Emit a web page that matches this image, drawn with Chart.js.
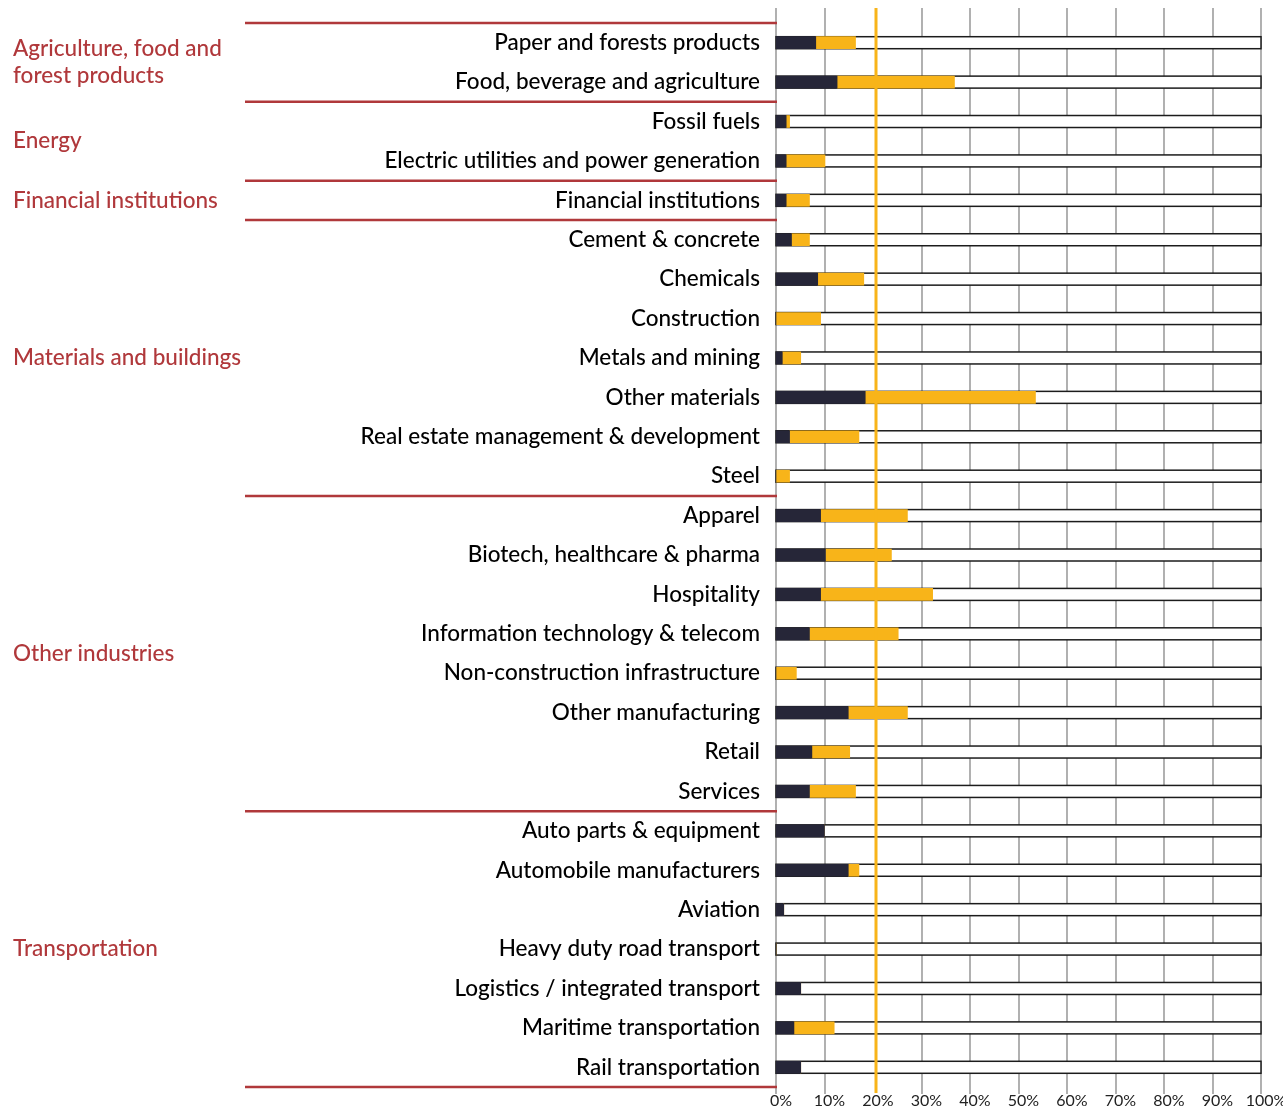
<!DOCTYPE html>
<html>
<head>
<meta charset="utf-8">
<script src="https://cdn.jsdelivr.net/npm/chart.js@4/dist/chart.umd.min.js"></script>
<style>
  html, body { margin: 0; background: #fff; }
  #wrap { position: relative; width: 1283px; height: 1109px; }
</style>
</head>
<body>
<div id="wrap"><canvas id="chart"></canvas></div>
<script>
// Sector rows, top to bottom, and the two stacked shares (percent).
const sectors = [
  "Paper and forests products", "Food, beverage and agriculture",
  "Fossil fuels", "Electric utilities and power generation",
  "Financial institutions",
  "Cement & concrete", "Chemicals", "Construction", "Metals and mining",
  "Other materials", "Real estate management & development", "Steel",
  "Apparel", "Biotech, healthcare & pharma", "Hospitality",
  "Information technology & telecom", "Non-construction infrastructure",
  "Other manufacturing", "Retail", "Services",
  "Auto parts & equipment", "Automobile manufacturers", "Aviation",
  "Heavy duty road transport", "Logistics / integrated transport",
  "Maritime transportation", "Rail transportation",
];
const darkSeries = [
  8.2, 12.6,
  2.1, 2.1,
  2.1,
  3.2, 8.6, 0, 1.3, 18.4, 2.8, 0,
  9.2, 10.2, 9.2, 6.9, 0, 14.9, 7.4, 6.9,
  10.0, 14.9, 1.6, 0, 5.1, 3.7, 5.1,
];
const goldSeries = [
  8.2, 24.2,
  0.7, 8.0,
  4.8,
  3.7, 9.5, 9.2, 3.8, 35.1, 14.3, 2.8,
  17.9, 13.6, 23.1, 18.3, 4.2, 12.2, 7.8, 9.5,
  0, 2.2, 0, 0, 0, 8.3, 0,
];

// Sector groups (row counts follow the order of `sectors`).
const groupLabels = [
  ["Agriculture, food and", "forest products"],
  ["Energy"],
  ["Financial institutions"],
  ["Materials and buildings"],
  ["Other industries"],
  ["Transportation"],
];
const groupSizes = [2, 2, 1, 7, 8, 7];

const xTickLabels = ["0%", "10%", "20%", "30%", "40%", "50%", "60%", "70%", "80%", "90%", "100%"];
const thresholdPct = 20;

const NAVY = "#262638";
const GOLD = "#f8b419";
const RED = "#b0383b";
const FONT = "Lato";

// Grid, white 0–100% track boxes, threshold line, group labels and rules.
const decor = {
  id: "decor",
  beforeDatasetsDraw(chart) {
    const { ctx, chartArea: a, scales: { x } } = chart;
    ctx.save();
    ctx.strokeStyle = "#9d9d9d";
    ctx.lineWidth = 1.6;
    for (const t of x.ticks) {
      if (t.value === thresholdPct) continue; // covered by the gold line
      const px = Math.round(x.getPixelForValue(t.value));
      ctx.beginPath();
      ctx.moveTo(px, a.top - 15);
      ctx.lineTo(px, a.bottom + 7);
      ctx.stroke();
    }
    const x0 = x.getPixelForValue(0), x1 = x.getPixelForValue(100);
    ctx.fillStyle = "#fff";
    ctx.strokeStyle = "#1c1c1c";
    ctx.lineWidth = 1.5;
    for (const bar of chart.getDatasetMeta(0).data) {
      const top = bar.y - bar.height / 2;
      ctx.fillRect(x0, top, x1 - x0, bar.height);
      ctx.strokeRect(x0, top, x1 - x0, bar.height);
    }
    ctx.restore();
  },
  afterDatasetsDraw(chart) {
    const { ctx, chartArea: a, scales: { x } } = chart;
    const px = x.getPixelForValue(thresholdPct) + 3;
    ctx.save();
    ctx.strokeStyle = GOLD;
    ctx.lineWidth = 3;
    ctx.beginPath();
    ctx.moveTo(px, a.top - 15);
    ctx.lineTo(px, a.bottom + 6);
    ctx.stroke();
    ctx.restore();
  },
  afterDraw(chart) {
    const { ctx, chartArea: a, scales: { y } } = chart;
    const band = y.getPixelForValue(1) - y.getPixelForValue(0);
    const edge = (i) => y.getPixelForValue(i) - band / 2;
    ctx.save();
    ctx.strokeStyle = RED;
    ctx.lineWidth = 2.5;
    const rule = (py) => {
      ctx.beginPath();
      ctx.moveTo(245, py);
      ctx.lineTo(a.left + 1, py);
      ctx.stroke();
    };
    ctx.fillStyle = RED;
    ctx.font = `500 22.5px ${FONT}`;
    ctx.textAlign = "left";
    ctx.textBaseline = "middle";
    let start = 0;
    rule(edge(0));
    groupSizes.forEach((n, g) => {
      const mid = (edge(start) + edge(start + n)) / 2;
      const lines = groupLabels[g];
      lines.forEach((line, k) => {
        ctx.fillText(line, 13, mid + (k - (lines.length - 1) / 2) * 27);
      });
      start += n;
      rule(edge(start));
    });
    ctx.restore();
  },
};

new Chart(document.getElementById("chart"), {
  type: "bar",
  data: {
    labels: sectors,
    datasets: [
      { label: "dark", data: darkSeries, backgroundColor: NAVY, borderWidth: 0, barThickness: 12 },
      { label: "gold", data: goldSeries, backgroundColor: GOLD, borderWidth: 0, barThickness: 12 },
    ],
  },
  options: {
    indexAxis: "y",
    responsive: true, maintainAspectRatio: false,
    devicePixelRatio: 1,
    animation: false,
    layout: { padding: { top: 23, right: 22, bottom: 0, left: 0 } },
    scales: {
      x: {
        stacked: true, min: 0, max: 100,
        grid: { display: false, drawTicks: false }, border: { display: false },
        ticks: {
          stepSize: 10, padding: 4, labelOffset: 5, color: "#222",
          font: { family: FONT, size: 16 },
          callback: (v, i) => xTickLabels[i],
        },
        afterFit: (s) => { s.height = 22; s.paddingLeft = 0; s.paddingRight = 0; },
      },
      y: {
        stacked: true,
        grid: { display: false, drawTicks: false }, border: { display: false },
        ticks: { padding: 16, color: "#000", font: { family: FONT, size: 22.5, weight: "500" } },
        afterFit: (s) => { s.width = 776; s.paddingTop = 0; s.paddingBottom = 0; },
      },
    },
    plugins: { legend: { display: false }, tooltip: { enabled: false } },
  },
  plugins: [decor],
});
</script>
</body>
</html>
